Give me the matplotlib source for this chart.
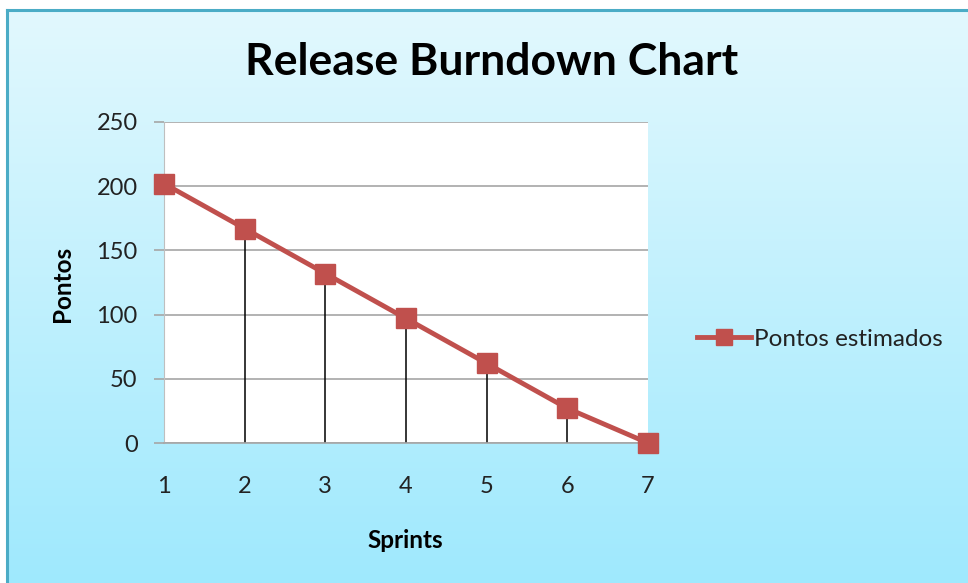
import numpy as np
import matplotlib
matplotlib.use("Agg")
import matplotlib.pyplot as plt
from matplotlib.colors import LinearSegmentedColormap

plt.rcParams['font.family'] = ['Lato', 'DejaVu Sans']

sprints = [1, 2, 3, 4, 5, 6, 7]
pontos = [202, 167, 132, 97, 62, 27, 0]
yticks = [0, 50, 100, 150, 200, 250]
title = "Release Burndown Chart"
series_name = "Pontos estimados"

W, H = 968, 583
fig = plt.figure(figsize=(W / 100, H / 100), dpi=100)
fig.patch.set_facecolor('white')

# background gradient frame
bg = fig.add_axes([0, 0, 1, 1], zorder=0)
bg.set_xlim(0, W)
bg.set_ylim(H, 0)
bg.axis('off')
cmap = LinearSegmentedColormap.from_list('bg', ['#E2F8FE', '#9FE9FD'])
grad = np.linspace(0, 1, 256).reshape(-1, 1)
bg.imshow(grad, cmap=cmap, aspect='auto', extent=(7, W, H, 10), zorder=0)
bg.plot([7, W], [10, 10], color='#4BACC6', lw=2.2, zorder=1)
bg.plot([7, 7], [10, H], color='#4BACC6', lw=2.2, zorder=1)

ax = fig.add_axes([164 / W, 1 - 443 / H, 484 / W, 321 / H], zorder=1)
ax.set_facecolor('white')
ax.set_xlim(1, 7)
ax.set_ylim(0, 250)
ax.set_yticks(yticks)
ax.set_xticks(sprints)
ax.grid(axis='y', color='#A6A6A6', lw=1.2)
ax.set_axisbelow(True)
for s in ['top', 'right']:
    ax.spines[s].set_visible(False)
ax.spines['left'].set_color('#BFBFBF')
ax.spines['bottom'].set_color('#A6A6A6')
ax.spines['bottom'].set_linewidth(1.2)
ax.tick_params(axis='y', length=7, color='#A6A6A6', width=1.2, pad=12, labelsize=17, labelcolor='#222222')
ax.tick_params(axis='x', length=0, pad=24, labelsize=17, labelcolor='#222222')

# drop lines
ax.vlines(sprints, 0, pontos, color='black', lw=1.1, zorder=2)
ax.plot(sprints, pontos, color='#C0504D', lw=3.5, marker='s', markersize=14,
        markerfacecolor='#C0504D', markeredgecolor='#C0504D', label=series_name,
        zorder=3, clip_on=False)

fig.text(492 / W, 1 - 62 / H, title, ha='center', va='center', fontsize=32, fontweight='bold', color='black')
fig.text(63 / W, 1 - 284 / H, "Pontos", ha='center', va='center', rotation=90, fontsize=17.5, fontweight='bold')
fig.text(405 / W, 1 - 540 / H, "Sprints", ha='center', va='center', fontsize=17.5, fontweight='bold')

leg = ax.legend(loc='center left', bbox_to_anchor=(685 / W, 1 - 339 / H), bbox_transform=fig.transFigure,
                frameon=False, fontsize=17.5, handlelength=2.2, handletextpad=0.15, borderpad=0,
                markerscale=0.85)
for t in leg.get_texts():
    t.set_color('#222222')

fig.savefig('out.png', dpi=100)
